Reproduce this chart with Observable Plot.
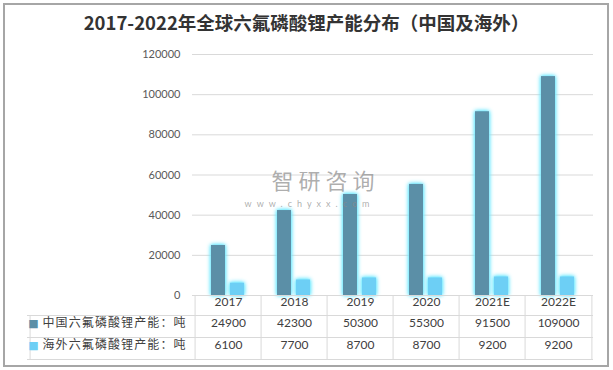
<!DOCTYPE html>
<html>
<head>
<meta charset="utf-8">
<script src="https://cdn.jsdelivr.net/npm/d3@7"></script>
<script src="https://cdn.jsdelivr.net/npm/@observablehq/plot@0.6"></script>
<style>
  body { margin: 0; background: #fff; }
  #wrap { position: relative; width: 613px; height: 370px; overflow: hidden; background: #fff; }
  #border { position: absolute; left: 3px; top: 3px; width: 606px; height: 364px; box-sizing: border-box; border: 2px solid #a6a6a6; pointer-events: none; }
  #title { position: absolute; left: 0; top: 0; width: 613px; height: 44px; line-height: 44px; text-align: center;
           font-family: "Noto Sans CJK SC", sans-serif; font-weight: bold; font-size: 18.5px; color: #333; }
  #chart { position: absolute; left: 0; top: 40px; }
</style>
</head>
<body>
<div id="wrap">
  <div id="title">2017-2022年全球六氟磷酸锂产能分布（中国及海外）</div>
  <div id="chart"></div>
  <div id="border"></div>
</div>
<script>
const years = ["2017", "2018", "2019", "2020", "2021E", "2022E"];
const chinaValues = [24900, 42300, 50300, 55300, 91500, 109000];
const overseasValues = [6100, 7700, 8700, 8700, 9200, 9200];
const seriesNames = ["中国六氟磷酸锂产能：吨", "海外六氟磷酸锂产能：吨"];
const seriesColors = ["#5b8fa7", "#6dcff5"];
const yTicks = [0, 20000, 40000, 60000, 80000, 100000, 120000];
const watermark = ["智研咨询", "www.chyxx.com"];

const rows = years.map((year, i) => ({year, china: chinaValues[i], overseas: overseasValues[i]}));

const W = 613, H = 330;
const mL = 192, mR = 20, mT = 14, mB = 75;
const bw = (W - mL - mR) / years.length;
const grid = "#d9d9d9";
const font = "Lato, 'Noto Sans CJK SC', sans-serif";

const plot = Plot.plot({
  width: W, height: H,
  marginLeft: mL, marginRight: mR, marginTop: mT, marginBottom: mB,
  style: {fontFamily: font, background: "transparent", overflow: "visible"},
  x: {type: "band", domain: years, padding: 0, axis: null},
  y: {domain: [0, 120000], axis: null},
  marks: [
    Plot.ruleY(yTicks.filter(d => d > 0), {stroke: grid, strokeWidth: 1}),
    Plot.barY(rows, {x: "year", y: "china", fill: seriesColors[0], insetLeft: 16, insetRight: 36}),
    Plot.barY(rows, {x: "year", y: "overseas", fill: seriesColors[1], insetLeft: 35, insetRight: 17}),
    // y labels
    Plot.text(yTicks, {y: d => d, text: d => String(d), frameAnchor: "left", dx: -12, textAnchor: "end", fill: "#595959", fontSize: 11}),
    // table lines
    Plot.ruleY([0], {stroke: grid}),
    Plot.ruleY([0], {stroke: grid, dy: 20, insetLeft: -165}),
    Plot.ruleY([0], {stroke: grid, dy: 42, insetLeft: -165}),
    Plot.ruleY([0], {stroke: grid, dy: 64, insetLeft: -165}),
    Plot.ruleX(years, {x: d => d, dx: -bw / 2, stroke: grid, insetTop: H - mT - mB, insetBottom: -64}),
    Plot.ruleX([years[years.length - 1]], {x: d => d, dx: bw / 2, stroke: grid, insetTop: H - mT - mB, insetBottom: -64}),
    Plot.ruleX([years[0]], {x: d => d, dx: -bw / 2 - 165, stroke: grid, insetTop: H - mT - mB + 20, insetBottom: -64}),
    // table text
    Plot.text(years, {x: d => d, text: d => d, frameAnchor: "bottom", dy: 10, fill: "#404040", fontSize: 12}),
    Plot.text(rows, {x: "year", text: d => String(d.china), frameAnchor: "bottom", dy: 31, fill: "#404040", fontSize: 12}),
    Plot.text(rows, {x: "year", text: d => String(d.overseas), frameAnchor: "bottom", dy: 53, fill: "#404040", fontSize: 12}),
    // legend cells
    Plot.text([seriesNames[0]], {text: d => d, frameAnchor: "bottom-left", dx: -150, dy: 31, textAnchor: "start", fill: "#404040", fontSize: 12}),
    Plot.text([seriesNames[1]], {text: d => d, frameAnchor: "bottom-left", dx: -150, dy: 53, textAnchor: "start", fill: "#404040", fontSize: 12}),
    Plot.text(["■"], {text: d => d, frameAnchor: "bottom-left", dx: -159, dy: 31, textAnchor: "middle", fill: seriesColors[0], fontSize: 11, fontFamily: "DejaVu Sans"}),
    Plot.text(["■"], {text: d => d, frameAnchor: "bottom-left", dx: -159, dy: 53, textAnchor: "middle", fill: seriesColors[1], fontSize: 11, fontFamily: "DejaVu Sans"}),
    // watermark
    Plot.text([watermark[0]], {text: d => d, frameAnchor: "top-left", dx: 133, dy: 119, textAnchor: "middle", fill: "#8a8a8a", fillOpacity: 0.7, fontSize: 22, fontFamily: "Noto Sans CJK SC"}),
    Plot.text([watermark[1]], {text: d => d, frameAnchor: "top-left", dx: 117, dy: 146, textAnchor: "middle", fill: "#8a8a8a", fillOpacity: 0.7, fontSize: 9})
  ]
});

plot.querySelectorAll('g[aria-label="bar"]').forEach(g => {
  g.style.filter = "drop-shadow(0 0 2px #55e4ff) drop-shadow(0 0 1.5px #8eefff)";
});
plot.querySelectorAll("text").forEach(t => {
  if (seriesNames.includes(t.textContent)) t.style.letterSpacing = "1.1px";
  if (t.textContent === watermark[1]) t.style.letterSpacing = "5px";
  if (t.textContent === watermark[0]) t.style.letterSpacing = "5px";
});
document.getElementById("chart").appendChild(plot);
</script>
</body>
</html>
